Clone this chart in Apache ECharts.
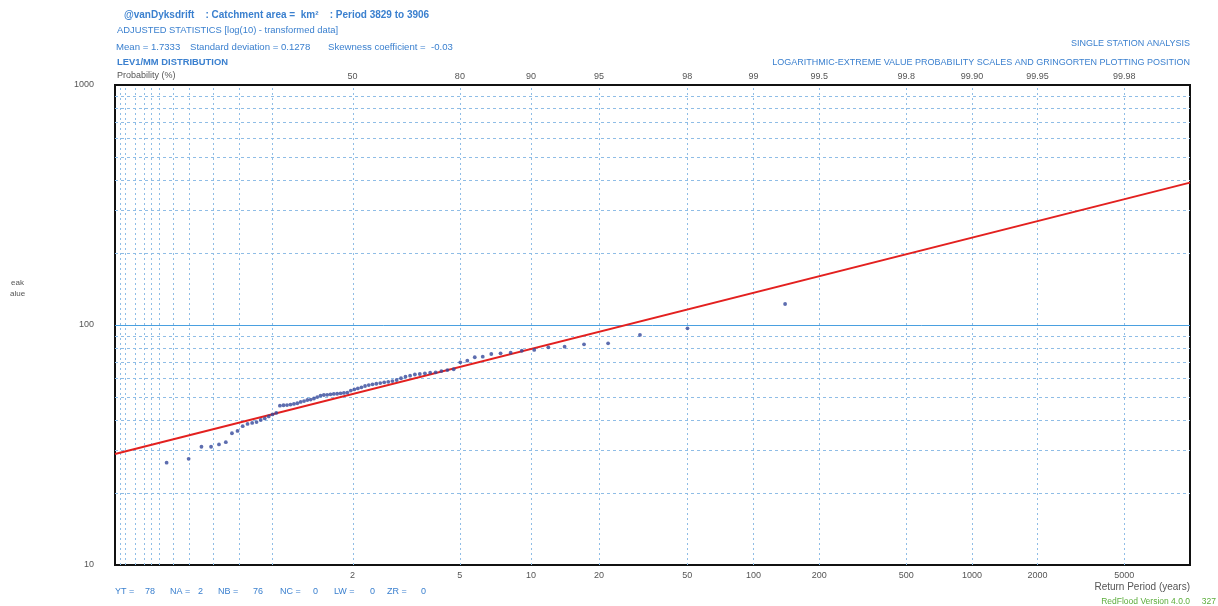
<!DOCTYPE html>
<html><head><meta charset="utf-8">
<script src="https://cdn.jsdelivr.net/npm/echarts@6/dist/echarts.min.js"></script>
<style>html,body{margin:0;padding:0;background:#fff}#c{width:1218px;height:606px}</style>
</head><body><div id="c"></div>
<script>
// Annual peak values, ranked ascending
const peakValues = [26.7, 27.7, 31.1, 31.1, 31.8, 32.5, 35.4, 36.2, 37.9, 38.7,
  39.1, 39.4, 40.2, 40.8, 41.6, 42.4, 43.0, 46.1, 46.3, 46.4,
  46.6, 46.9, 47.2, 47.8, 48.2, 48.7, 48.9, 49.4, 50.1, 50.8,
  51.1, 51.2, 51.4, 51.6, 51.7, 51.9, 52.1, 52.3, 53.3, 53.9,
  54.4, 55.0, 55.7, 56.2, 56.6, 56.9, 57.3, 57.7, 58.0, 58.4,
  59.0, 60.0, 60.9, 61.5, 62.2, 62.5, 62.9, 63.3, 63.5, 64.3,
  64.9, 65.4, 69.9, 71.0, 73.4, 73.8, 75.7, 76.2, 76.7, 78.1,
  78.7, 80.7, 81.2, 83.1, 83.9, 90.9, 96.9, 122.3];
// Fitted LEV1 line: non-exceedance probability and value at the plot ends
const fitProbs = [0.0002, 0.9999];
const fitValues = [29.0, 392];
// Axis extents (non-exceedance probability)
const axisProbMin = 0.0002, axisProbMax = 0.9999;
// Probability grid lines (non-exceedance)
const gridProbs = [0.0003, 0.0005, 0.001, 0.002, 0.003, 0.005, 0.01, 0.02, 0.05, 0.1, 0.2,
  0.5, 0.8, 0.9, 0.95, 0.98, 0.99, 0.995, 0.998, 0.999, 0.9995, 0.9998];
// Top tick labels: probability (%)
const probTickValues = [50, 80, 90, 95, 98, 99, 99.5, 99.8, 99.9, 99.95, 99.98];
const probTickLabels = ['50', '80', '90', '95', '98', '99', '99.5', '99.8', '99.90', '99.95', '99.98'];
// Bottom tick labels: return period (years)
const returnPeriods = [2, 5, 10, 20, 50, 100, 200, 500, 1000, 2000, 5000];
const returnPeriodLabels = ['2', '5', '10', '20', '50', '100', '200', '500', '1000', '2000', '5000'];
// Y axis
const yTicks = [10, 100, 1000];
const yTickLabels = ['10', '100', '1000'];
const yMinorGrid = [20, 30, 40, 50, 60, 70, 80, 90, 200, 300, 400, 500, 600, 700, 800, 900];
const ySolidGrid = [100];
// Footer statistics
const footerNames = ['YT =', 'NA =', 'NB =', 'NC =', 'LW =', 'ZR ='];
const footerValues = ['78', '2', '76', '0', '0', '0'];

// Extreme value (Gumbel) probability scale: reduced variate
const gumbel = p => -Math.log(-Math.log(p));
const N = peakValues.length;
const pts = peakValues.map((q, i) => [gumbel((i + 1 - 0.44) / (N + 0.12)), q]); // Gringorten
const fit = fitProbs.map((p, i) => [gumbel(p), fitValues[i]]);

const probVals = probTickValues.map(v => gumbel(v / 100));
const rpVals = returnPeriods.map(t => gumbel(1 - 1 / t));
function nearestLabel(vals, labels, v) {
  let best = 0, d = Infinity;
  vals.forEach((x, i) => { const dd = Math.abs(x - v); if (dd < d) { d = dd; best = i; } });
  return labels[best];
}

const FONT = "'Liberation Sans', Arial, sans-serif";
const BLUE = '#3b80cf';
const GRIDC = '#8fbde6';

const markData = [];
gridProbs.forEach(p => markData.push({ xAxis: gumbel(p), lineStyle: { type: [2, 3], color: GRIDC, width: 1 } }));
yMinorGrid.forEach(v => markData.push({ yAxis: v, lineStyle: { type: [3, 3], color: GRIDC, width: 1 } }));
ySolidGrid.forEach(v => markData.push({ yAxis: v, lineStyle: { type: 'solid', color: '#4aa0e0', width: 1 } }));

// footer layout positions (text placement only)
const footerNameX = [115, 170, 218, 280, 334, 387];
const footerValX = [145, 198, 253, 313, 370, 421];
const footerGraphics = [];
footerNames.forEach((n, i) => {
  footerGraphics.push({ type: 'text', left: footerNameX[i], top: 587, style: { text: n, fill: BLUE, font: '9px ' + FONT } });
  footerGraphics.push({ type: 'text', left: footerValX[i], top: 587, style: { text: footerValues[i], fill: BLUE, font: '9px ' + FONT } });
});

const chart = echarts.init(document.getElementById('c'), null, { renderer: 'canvas' });
const xMin = gumbel(axisProbMin), xMax = gumbel(axisProbMax);
chart.setOption({
  animation: false,
  backgroundColor: '#fff',
  grid: { left: 115, right: 28, top: 85, bottom: 41, show: true, borderColor: '#111', borderWidth: 2, backgroundColor: 'transparent' },
  xAxis: [
    { type: 'value', position: 'bottom', min: xMin, max: xMax,
      axisLine: { show: false }, axisTick: { show: false }, splitLine: { show: false },
      axisLabel: { customValues: rpVals, margin: 6, color: '#555', fontSize: 9, fontFamily: FONT,
        formatter: v => nearestLabel(rpVals, returnPeriodLabels, v) } },
    { type: 'value', position: 'top', min: xMin, max: xMax,
      axisLine: { show: false }, axisTick: { show: false }, splitLine: { show: false },
      axisLabel: { customValues: probVals, margin: 4, color: '#555', fontSize: 9, fontFamily: FONT,
        formatter: v => nearestLabel(probVals, probTickLabels, v) } }
  ],
  yAxis: { type: 'log', logBase: 10, min: 10, max: 1000,
    axisLine: { show: false }, axisTick: { show: false }, splitLine: { show: false },
    axisLabel: { customValues: yTicks, margin: 21, color: '#555', fontSize: 9, fontFamily: FONT,
      formatter: v => nearestLabel(yTicks, yTickLabels, v) } },
  series: [
    { type: 'line', xAxisIndex: 0, data: fit, showSymbol: false, symbol: 'none', silent: true,
      lineStyle: { color: '#e3201f', width: 2 }, z: 3,
      markLine: { silent: true, symbol: 'none', label: { show: false }, data: markData, z: 1 } },
    { type: 'scatter', xAxisIndex: 0, data: pts, symbol: 'circle', symbolSize: 3.8,
      itemStyle: { color: '#34489b' }, z: 4 }
  ],
  graphic: [
    { type: 'text', left: 124, top: 10, style: { text: '@vanDyksdrift    : Catchment area =  km²    : Period 3829 to 3906', fill: BLUE, font: 'bold 10px ' + FONT } },
    { type: 'text', left: 117, top: 26, style: { text: 'ADJUSTED STATISTICS [log(10) - transformed data]', fill: BLUE, font: '9.4px ' + FONT } },
    { type: 'text', left: 116, top: 42, style: { text: 'Mean = 1.7333', fill: BLUE, font: '9.6px ' + FONT } },
    { type: 'text', left: 190, top: 42, style: { text: 'Standard deviation = 0.1278', fill: BLUE, font: '9.6px ' + FONT } },
    { type: 'text', left: 328, top: 42, style: { text: 'Skewness coefficient =  -0.03', fill: BLUE, font: '9.6px ' + FONT } },
    { type: 'text', left: 117, top: 58, style: { text: 'LEV1/MM DISTRIBUTION', fill: BLUE, font: 'bold 9.4px ' + FONT } },
    { type: 'text', left: 117, top: 71, style: { text: 'Probability (%)', fill: '#555', font: '9px ' + FONT } },
    { type: 'text', right: 28, top: 39, style: { text: 'SINGLE STATION ANALYSIS', fill: BLUE, font: '9px ' + FONT } },
    { type: 'text', right: 28, top: 58, style: { text: 'LOGARITHMIC-EXTREME VALUE PROBABILITY SCALES AND GRINGORTEN PLOTTING POSITION', fill: BLUE, font: '9px ' + FONT } },
    { type: 'text', left: 11, top: 279, style: { text: 'eak', fill: '#555', font: '8px ' + FONT } },
    { type: 'text', left: 10, top: 290, style: { text: 'alue', fill: '#555', font: '8px ' + FONT } },
    { type: 'text', right: 28, top: 582, style: { text: 'Return Period (years)', fill: '#555', font: '10px ' + FONT } },
    { type: 'text', right: 2, top: 597, style: { text: 'RedFlood Version 4.0.0     327', fill: '#5cae3c', font: '8.5px ' + FONT } }
  ].concat(footerGraphics)
});
</script></body></html>
